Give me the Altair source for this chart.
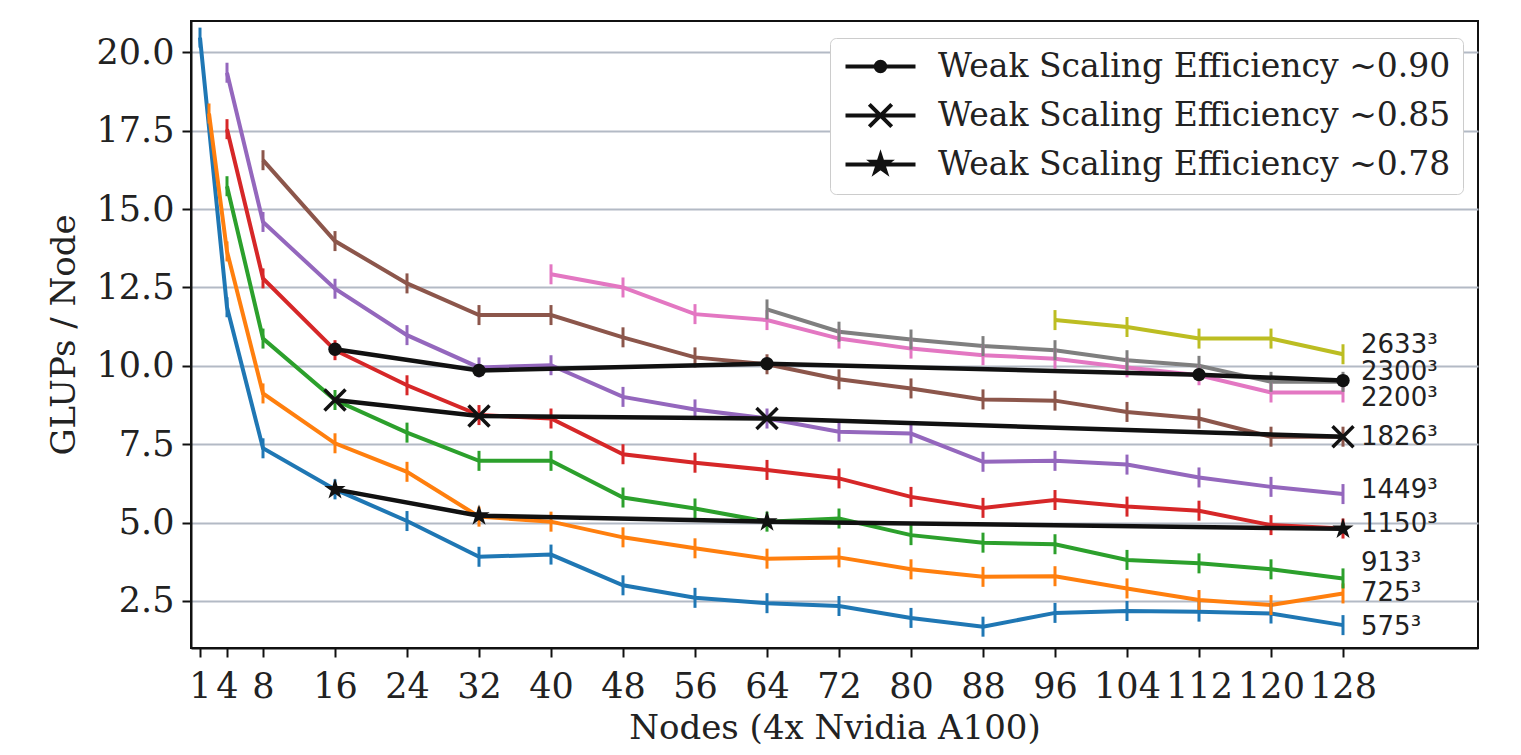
import altair as alt
import pandas as pd

# ---------------- data ----------------
x_ticks = [1, 4, 8, 16, 24, 32, 40, 48, 56, 64, 72, 80, 88, 96, 104, 112, 120, 128]
y_ticks = [2.5, 5.0, 7.5, 10.0, 12.5, 15.0, 17.5, 20.0]

X_TAIL = [8, 16, 24, 32, 40, 48, 56, 64, 72, 80, 88, 96, 104, 112, 120, 128]

s575_x = [1, 4] + X_TAIL
s575_y = [20.47, 11.87, 7.37, 6.06, 5.05, 3.91, 3.98, 3.00, 2.60, 2.43, 2.34, 1.96, 1.68, 2.12, 2.18, 2.16, 2.10, 1.73]

s725_x = [2, 4] + X_TAIL
s725_y = [18.05, 13.65, 9.12, 7.53, 6.62, 5.19, 5.03, 4.53, 4.18, 3.85, 3.89, 3.51, 3.27, 3.29, 2.90, 2.53, 2.37, 2.74]

s913_x = [4] + X_TAIL
s913_y = [15.73, 10.87, 8.91, 7.87, 6.97, 6.97, 5.80, 5.45, 5.03, 5.13, 4.60, 4.36, 4.31, 3.81, 3.70, 3.51, 3.22]

s1150_x = [4] + X_TAIL
s1150_y = [17.55, 12.79, 10.50, 9.38, 8.43, 8.32, 7.18, 6.91, 6.68, 6.41, 5.82, 5.47, 5.72, 5.51, 5.38, 4.92, 4.81]

s1449_x = [4] + X_TAIL
s1449_y = [19.35, 14.59, 12.46, 10.98, 9.95, 10.02, 9.01, 8.61, 8.32, 7.90, 7.84, 6.94, 6.97, 6.85, 6.44, 6.14, 5.91]

s1826_x = X_TAIL
s1826_y = [16.56, 13.98, 12.63, 11.62, 11.62, 10.91, 10.27, 10.05, 9.57, 9.28, 8.93, 8.89, 8.53, 8.32, 7.74, 7.74]

s2200_x = [40, 48, 56, 64, 72, 80, 88, 96, 104, 112, 120, 128]
s2200_y = [12.92, 12.50, 11.65, 11.46, 10.87, 10.55, 10.34, 10.23, 9.95, 9.70, 9.15, 9.15]

s2300_x = [64, 72, 80, 88, 96, 104, 112, 120, 128]
s2300_y = [11.80, 11.09, 10.84, 10.63, 10.50, 10.18, 10.00, 9.49, 9.49]

s2633_x = [96, 104, 112, 120, 128]
s2633_y = [11.46, 11.24, 10.87, 10.87, 10.37]

series_names = ["575", "725", "913", "1150", "1449", "1826", "2200", "2300", "2633"]
series_colors = ["#1f77b4", "#ff7f0e", "#2ca02c", "#d62728", "#9467bd",
                 "#8c564b", "#e377c2", "#7f7f7f", "#bcbd22"]
series_xy = [(s575_x, s575_y), (s725_x, s725_y), (s913_x, s913_y), (s1150_x, s1150_y),
             (s1449_x, s1449_y), (s1826_x, s1826_y), (s2200_x, s2200_y),
             (s2300_x, s2300_y), (s2633_x, s2633_y)]

# end labels (text, y position)
label_text = ["2633³", "2300³", "2200³", "1826³", "1449³", "1150³", "913³", "725³", "575³"]
label_y = [10.65, 9.79, 8.99, 7.74, 6.05, 4.97, 3.72, 2.76, 1.67]
label_x = [130] * len(label_text)

# weak scaling efficiency lines
eff_names = ["Weak Scaling Efficiency ~0.90", "Weak Scaling Efficiency ~0.85",
             "Weak Scaling Efficiency ~0.78"]
e90_x = [16, 32, 64, 112, 128]
e90_y = [10.53, 9.85, 10.07, 9.72, 9.53]
e85_x = [16, 32, 64, 128]
e85_y = [8.91, 8.40, 8.32, 7.74]
e78_x = [16, 32, 64, 128]
e78_y = [6.06, 5.22, 5.03, 4.80]

# ---------------- tables ----------------
rows = []
for name, (xs, ys) in zip(series_names, series_xy):
    for xv, yv in zip(xs, ys):
        rows.append({"series": name, "nodes": xv, "glups": yv})
df = pd.DataFrame(rows)

erows = []
for name, xs, ys in zip(eff_names, [e90_x, e85_x, e78_x], [e90_y, e85_y, e78_y]):
    for xv, yv in zip(xs, ys):
        erows.append({"eff": name, "nodes": xv, "glups": yv})
edf = pd.DataFrame(erows)

ldf = pd.DataFrame({"label": label_text, "nodes": label_x, "glups": label_y})

# ---------------- shapes ----------------
TICK = "M0,-1L0,1"
XMARK = "M-1,-1L1,1M-1,1L1,-1"
STAR_PTS = [(0, -1), (-0.2245, -0.309), (-0.951, -0.309), (-0.363, 0.118), (-0.588, 0.809),
            (0, 0.382), (0.588, 0.809), (0.363, 0.118), (0.951, -0.309), (0.2245, -0.309)]


def star_path(k):
    return "M" + "L".join(f"{px*k:.3f},{py*k:.3f}" for px, py in STAR_PTS) + "Z"


def circle_path(r):
    return f"M{-r},0A{r},{r} 0 1,0 {r},0A{r},{r} 0 1,0 {-r},0Z"


STAR = star_path(1.0)
LINE = "M-2.5,0L2.5,0"
LEG_CIRCLE = LINE + circle_path(0.34) + circle_path(0.15)
LEG_X = LINE + "M-0.8,-0.8L0.8,0.8M-0.8,0.8L0.8,-0.8"
LEG_STAR = LINE + star_path(0.62) + star_path(0.3)

xscale = alt.Scale(domain=[0, 143], nice=False, zero=False)
yscale = alt.Scale(domain=[1.0, 21.0], nice=False, zero=False)
xenc = alt.X("nodes:Q", scale=xscale,
             axis=alt.Axis(values=x_ticks, title="Nodes (4x Nvidia A100)", grid=False,
                           labelOverlap=False, labelFlush=False, labelBound=False))
yenc = alt.Y("glups:Q", scale=yscale,
             axis=alt.Axis(values=y_ticks, format=".1f", title="GLUPs / Node", grid=True,
                           labelOverlap=False))
cenc = alt.Color("series:N", scale=alt.Scale(domain=series_names, range=series_colors), legend=None)

base = alt.Chart(df)
lines = base.mark_line(strokeWidth=4).encode(x=xenc, y=yenc, color=cenc, order="nodes:Q")
ticks = base.mark_point(shape=TICK, size=400, strokeWidth=3, filled=False, opacity=1).encode(
    x="nodes:Q", y="glups:Q", color=cenc)

ebase = alt.Chart(edf)
elines = ebase.mark_line(color="#111111", strokeWidth=4.5).encode(
    x="nodes:Q", y="glups:Q", detail="eff:N", order="nodes:Q")
m90 = ebase.transform_filter(alt.datum.eff == eff_names[0]).mark_point(
    shape="circle", size=180, filled=True, color="#111111", opacity=1).encode(x="nodes:Q", y="glups:Q")
m85 = ebase.transform_filter(alt.datum.eff == eff_names[1]).mark_point(
    shape=XMARK, size=440, filled=False, color="#111111", strokeWidth=3.5, opacity=1).encode(x="nodes:Q", y="glups:Q")
m78 = ebase.transform_filter(alt.datum.eff == eff_names[2]).mark_point(
    shape=STAR, size=500, filled=True, color="#111111", opacity=1).encode(x="nodes:Q", y="glups:Q")

legend_layer = ebase.mark_point(filled=False, stroke="#111111", color="#111111",
                                strokeWidth=4, opacity=0).encode(
    x="nodes:Q", y="glups:Q",
    shape=alt.Shape("eff:N", scale=alt.Scale(domain=eff_names, range=[LEG_CIRCLE, LEG_X, LEG_STAR]),
                    legend=alt.Legend(title=None, orient="none", legendX=639, legendY=17,
                                      symbolSize=784, symbolStrokeWidth=4,
                                      symbolFillColor="#111111", symbolStrokeColor="#111111",
                                      symbolOpacity=1,
                                      symbolOffset=22, labelOffset=41,
                                      labelFont="DejaVu Serif", labelFontSize=33,
                                      labelColor="#222222", labelLimit=0,
                                      padding=12, rowPadding=12,
                                      fillColor="white", strokeColor="#cccccc",
                                      cornerRadius=6)))

texts = alt.Chart(ldf).mark_text(align="left", baseline="middle", font="DejaVu Sans",
                                 fontSize=26, color="#222222").encode(
    x="nodes:Q", y="glups:Q", text="label:N")

chart = alt.layer(lines, ticks, elines, m90, m85, m78, legend_layer, texts).properties(
    width=1287, height=627,
    autosize=alt.AutoSizeParams(type="none"),
    padding={"left": 183, "top": 13, "right": 30, "bottom": 99},
).configure_view(stroke="#111111", strokeWidth=2).configure_axis(
    labelFont="DejaVu Serif", labelFontSize=35, labelColor="#222222",
    titleFont="DejaVu Serif", titleFontSize=34, titleFontWeight="normal", titleColor="#222222",
    tickSize=9, tickWidth=2, tickColor="#111111", domainColor="#111111", domainWidth=2,
    gridColor="#b3bac5", gridWidth=2,
).configure_axisX(labelPadding=12, titlePadding=7).configure_axisY(labelPadding=8, titlePadding=15)

chart.save("out.html", embed_options={"renderer": "svg", "actions": False})
